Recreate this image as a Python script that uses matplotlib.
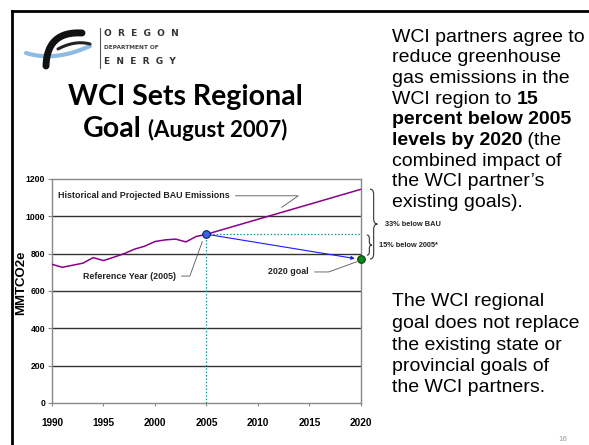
import matplotlib
matplotlib.use("Agg")
import matplotlib.pyplot as plt
import numpy as np
from matplotlib.path import Path
from matplotlib.patches import PathPatch
from matplotlib.transforms import blended_transform_factory

# data
hist_years = [1990, 1991, 1992, 1993, 1994, 1995, 1996, 1997, 1998, 1999,
              2000, 2001, 2002, 2003, 2004, 2005]
hist_bau = [743, 727, 738, 749, 779, 763, 781, 800, 824, 840,
            865, 874, 878, 863, 892, 904]
proj_years = [2005, 2020]
proj_bau = [904, 1145]
goal_years = [2005, 2020]
goal_values = [904, 769]
x_ticks = [1990, 1995, 2000, 2005, 2010, 2015, 2020]
y_ticks = [0, 200, 400, 600, 800, 1000, 1200]

W, H = 589, 445
fig = plt.figure(figsize=(W / 100, H / 100), dpi=100)
fig.patch.set_facecolor("white")
renderer = fig.canvas.get_renderer()

# overlay in pixel coordinates for the slide decorations
ov = fig.add_axes([0, 0, 1, 1])
ov.set_xlim(0, W)
ov.set_ylim(H, 0)
ov.axis("off")

def px_width(t):
    return t.get_window_extent(renderer).width * W / fig.bbox.width

# slide border
ov.plot([12, W], [10.5, 10.5], color="black", lw=2)
ov.plot([12, 12], [10.5, H], color="black", lw=2)

# logo (rough)
def bez(p0, p1, p2, n=40):
    t = np.linspace(0, 1, n)[:, None]
    p0, p1, p2 = np.array(p0), np.array(p1), np.array(p2)
    return (1 - t) ** 2 * p0 + 2 * (1 - t) * t * p1 + t ** 2 * p2

c = bez((26, 53), (55, 62), (90, 46))
ov.plot(c[:, 0], c[:, 1], color="#8dbbe3", lw=3, solid_capstyle="round")
c = bez((46, 66), (47, 31), (82, 33))
ov.plot(c[:, 0], c[:, 1], color="#111111", lw=5, solid_capstyle="round")
c = bez((58, 49), (75, 40), (90, 44))
ov.plot(c[:, 0], c[:, 1], color="#222222", lw=2.2, solid_capstyle="round")
ov.plot([100, 100], [28, 68], color="#555555", lw=0.8)
ov.text(104, 33, "O  R  E  G  O  N", fontsize=6.5, fontweight="bold", color="#333333",
        va="center", ha="left", family="DejaVu Sans")
ov.text(104, 47.5, "DEPARTMENT OF", fontsize=4.2, fontweight="bold", color="#444444",
        va="center", ha="left", family="DejaVu Sans")
ov.text(104, 61, "E  N  E  R  G  Y", fontsize=6.5, fontweight="bold", color="#333333",
        va="center", ha="left", family="DejaVu Sans")

# title
ov.text(185, 105, "WCI Sets Regional", fontsize=20.5, fontweight="bold",
        family="Lato", ha="center", va="baseline")
t1 = ov.text(0, 137, "Goal", fontsize=20.5, fontweight="bold", family="Lato",
             ha="left", va="baseline")
t2 = ov.text(0, 137, "(August 2007)", fontsize=16, fontweight="bold", family="Lato",
             ha="left", va="baseline")
w1, w2 = px_width(t1), px_width(t2)
gap = 6
x0 = 185 - (w1 + gap + w2) / 2
t1.set_x(x0)
t2.set_x(x0 + w1 + gap)

# right-hand text, with bold runs
body = dict(fontsize=14, family="Liberation Sans", va="center", ha="left")
para1 = [
    [("WCI partners agree to", "normal")],
    [("reduce greenhouse", "normal")],
    [("gas emissions in the", "normal")],
    [("WCI region to ", "normal"), ("15", "bold")],
    [("percent below 2005", "bold")],
    [("levels by 2020", "bold"), (" (the", "normal")],
    [("combined impact of", "normal")],
    [("the WCI partner\u2019s", "normal")],
    [("existing goals).", "normal")],
]
para2 = [
    [("The WCI regional", "normal")],
    [("goal does not replace", "normal")],
    [("the existing state or", "normal")],
    [("provincial goals of", "normal")],
    [("the WCI partners.", "normal")],
]

def write_lines(lines, x0, y0, step):
    for i, runs in enumerate(lines):
        x = x0
        y = y0 + i * step
        for txt, wt in runs:
            t = ov.text(x, y, txt, fontweight=wt, **body)
            x += px_width(t)

write_lines(para1, 392, 37, 20.7)
write_lines(para2, 392, 302, 21.5)
ov.text(563, 439, "16", fontsize=5, color="#999999", ha="center", va="center")

# chart
ax = fig.add_axes([52 / W, (H - 403) / H, 309 / W, 224 / H])
ax.set_xlim(1990, 2020)
ax.set_ylim(0, 1200)
for v in y_ticks[1:-1]:
    ax.axhline(v, color="#333333", lw=1.0, zorder=1)
for s in ax.spines.values():
    s.set_color("#888888")
    s.set_linewidth(1.0)
ax.set_xticks(x_ticks)
ax.set_yticks(y_ticks)
ax.tick_params(axis="x", length=2, width=0.8, color="#888888", labelsize=7.2, pad=9)
ax.tick_params(axis="y", length=3, width=0.8, color="#888888", labelsize=6.2, pad=2)
for lab in ax.get_xticklabels() + ax.get_yticklabels():
    lab.set_fontweight("bold")
    lab.set_family("Liberation Sans")
ax.set_ylabel("MMTCO2e", fontsize=9.5, fontweight="bold", family="Liberation Sans")
ax.yaxis.set_label_coords(-0.08, 0.536)

teal = "#0a9a9a"
ax.plot([goal_years[0], goal_years[0]], [0, goal_values[0]], color=teal, lw=0.9,
        ls=(0, (1.2, 1.5)), zorder=2, clip_on=False)
ax.plot(proj_years, [proj_bau[0], proj_bau[0]], color=teal, lw=0.9,
        ls=(0, (1.2, 1.5)), zorder=2)

ax.plot(hist_years, hist_bau, color="#8b008b", lw=1.1, zorder=3)
ax.plot(proj_years, proj_bau, color="#8b008b", lw=1.1, zorder=3)

ax.annotate("", xy=(goal_years[1] - 0.6, goal_values[1] + 5),
            xytext=(goal_years[0], goal_values[0]),
            arrowprops=dict(arrowstyle="-|>", color="#1a1aff", lw=0.8,
                            mutation_scale=5, shrinkA=0, shrinkB=0), zorder=3)

ax.scatter([goal_years[0]], [goal_values[0]], s=30, color="#3a62e8",
           edgecolor="#10205a", linewidth=0.8, zorder=5, clip_on=False)
ax.scatter([goal_years[1]], [goal_values[1]], s=30, color="#0b8a1a",
           edgecolor="#0a3a10", linewidth=0.8, zorder=5, clip_on=False)

lab = dict(fontsize=6.4, fontweight="bold", family="Liberation Sans", color="#222222")
ax.annotate("Historical and Projected BAU Emissions", xy=(2012.3, 1048),
            xytext=(1990.6, 1110), va="center", ha="left",
            arrowprops=dict(arrowstyle="-", color="#555555", lw=0.6,
                            connectionstyle="angle,angleA=0,angleB=35,rad=0",
                            shrinkA=2, shrinkB=0), **lab)
ax.annotate("Reference Year (2005)", xy=(2004.6, 865), xytext=(1993.0, 680),
            va="center", ha="left",
            arrowprops=dict(arrowstyle="-", color="#555555", lw=0.6,
                            connectionstyle="angle,angleA=0,angleB=70,rad=0",
                            shrinkA=2, shrinkB=0), **lab)
ax.annotate("2020 goal", xy=(2019.6, 757), xytext=(2011.0, 702),
            va="center", ha="left",
            arrowprops=dict(arrowstyle="-", color="#555555", lw=0.6,
                            connectionstyle="angle,angleA=0,angleB=20,rad=0",
                            shrinkA=2, shrinkB=0), **lab)

# braces to the right of the plot
tr = blended_transform_factory(ax.transAxes, ax.transData)

def brace(x, w, ylo, yhi, r):
    ym = (ylo + yhi) / 2
    xm = x + w / 2
    verts = [(x, yhi), (xm, yhi), (xm, yhi - r), (xm, ym + r), (xm, ym), (x + w, ym),
             (xm, ym), (xm, ym - r), (xm, ylo + r), (xm, ylo), (x, ylo)]
    codes = [Path.MOVETO, Path.CURVE3, Path.CURVE3, Path.LINETO, Path.CURVE3, Path.CURVE3,
             Path.CURVE3, Path.CURVE3, Path.LINETO, Path.CURVE3, Path.CURVE3]
    ax.add_patch(PathPatch(Path(verts, codes), transform=tr, fill=False,
                           edgecolor="#333333", lw=0.8, clip_on=False))
    return ym

ym = brace(1.029, 0.024, 771, 1146, 30)
ax.text(1.078, ym, "33% below BAU", transform=tr, va="center", ha="left",
        fontsize=5.3, fontweight="bold", family="Liberation Sans", color="#222222")
ym = brace(1.019, 0.016, 792, 900, 18)
ax.text(1.058, ym, "15% below 2005*", transform=tr, va="center", ha="left",
        fontsize=5.3, fontweight="bold", family="Liberation Sans", color="#222222")

fig.savefig("out.png", dpi=100)
